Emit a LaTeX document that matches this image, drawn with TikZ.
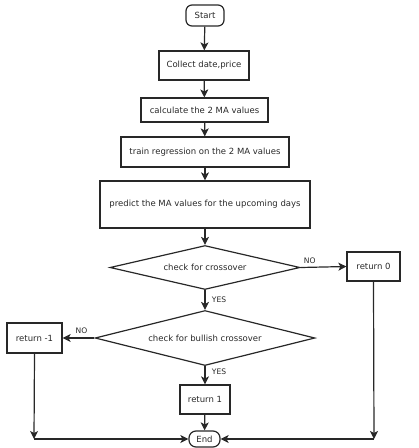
\documentclass[tikz,border=0pt]{standalone}
\usepackage{fontspec}
\setmainfont{DejaVu Sans}
\usetikzlibrary{shapes.geometric,arrows.meta}
\definecolor{ink}{RGB}{40,40,40}
\begin{document}
\begin{tikzpicture}[x=1pt,y=-1pt,
  every node/.style={font=\fontsize{8.5}{10}\selectfont, text=ink},
  box/.style={draw=ink, line width=1.2pt, rectangle, inner sep=0pt, align=center},
  term/.style={draw=ink, line width=1.2pt, rectangle, rounded corners=6pt, inner sep=0pt},
  dec/.style={draw=ink, line width=1.2pt, diamond, inner sep=0pt},
  lab/.style={font=\fontsize{7.6}{8}\selectfont},
  arr/.style={draw=ink, line width=1.2pt, -{Stealth[length=8pt,width=8pt,inset=2pt]}},
  ln/.style={draw=ink, line width=1.2pt}]
\useasboundingbox (0,0) rectangle (419,448);
\node[term, minimum width=38pt, minimum height=21pt] (start) at (205,15.5) {Start};
\node[box, minimum width=90pt, minimum height=29pt] (collect) at (204,65.5) {Collect date,price};
\node[box, minimum width=127pt, minimum height=24pt] (calc) at (204.5,110) {calculate the 2 MA values};
\node[box, minimum width=168pt, minimum height=30pt] (train) at (205,152) {train regression on the 2 MA values};
\node[box, minimum width=210pt, minimum height=47pt] (pred) at (205,204.5) {predict the MA values for the upcoming days};
\node[dec, shape aspect=4.3, minimum width=190pt, minimum height=44pt] (d1) at (205,267.5) {check for crossover};
\node[box, minimum width=53pt, minimum height=29pt] (r0) at (373.5,266.5) {return 0};
\node[dec, shape aspect=4, minimum width=220pt, minimum height=55pt] (d2) at (205,338) {check for bullish crossover};
\node[box, minimum width=55pt, minimum height=30pt] (rm1) at (34.5,338) {return -1};
\node[box, minimum width=50pt, minimum height=29pt] (r1) at (205,399.5) {return 1};
\node[term, minimum width=31pt, minimum height=16pt, rounded corners=7pt] (end) at (204.5,439) {End};
\coordinate (L) at (34,439);
\coordinate (R) at (374,439);
\draw[arr] (start) -- (collect);
\draw[arr] (collect) -- (calc);
\draw[arr] (calc) -- (train);
\draw[arr] (train) -- (pred);
\draw[arr] (pred) -- (d1);
\draw[arr] (d1.east) -- node[lab, above, pos=0.2] {NO} (r0.west);
\draw[arr] (d1.south) -- node[lab, right, xshift=3pt] {YES} (d2.north);
\draw[arr] (d2.west) -- node[lab, above, pos=0.5, xshift=3pt] {NO} (rm1.east);
\draw[arr] (d2.south) -- node[lab, right, xshift=3pt, pos=0.3] {YES} (r1.north);
\draw[arr] (r1) -- (end);
\draw[arr] (rm1.south) -- (L);
\draw[arr] (L) -- (end.west);
\draw[arr] (r0.south) -- (R);
\draw[arr] (R) -- (end.east);
\end{tikzpicture}
\end{document}
